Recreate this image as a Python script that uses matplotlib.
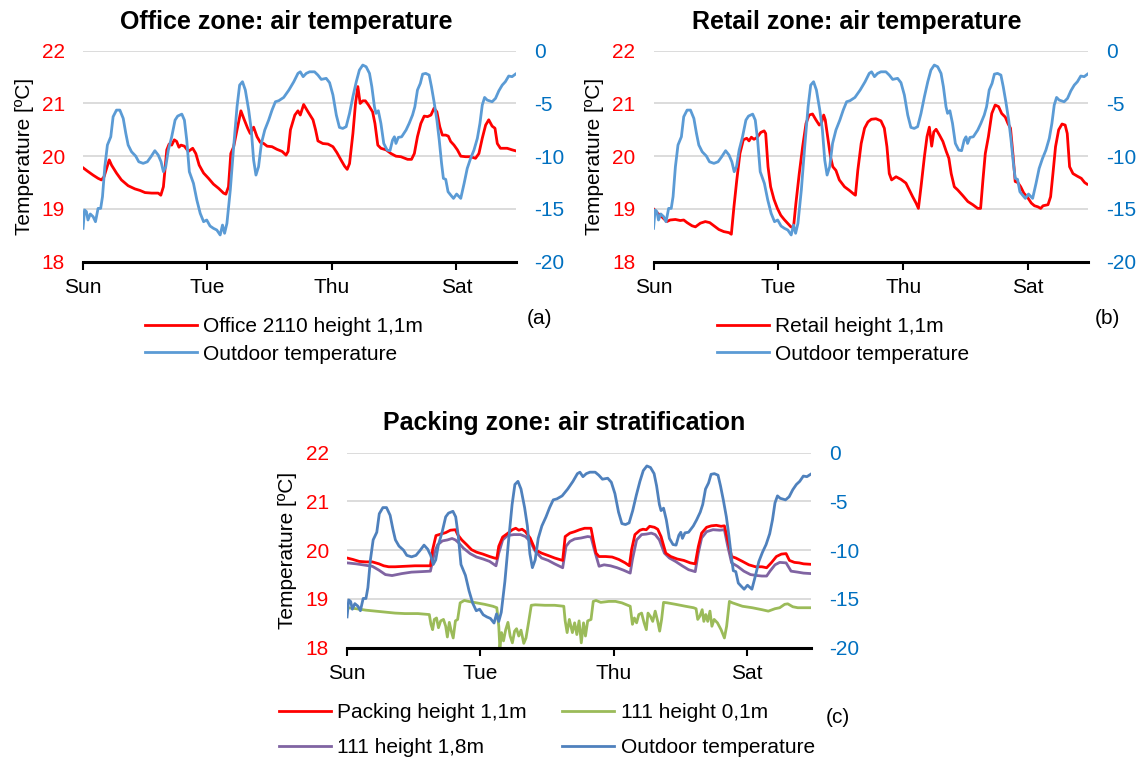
import matplotlib
matplotlib.use("Agg")
import matplotlib.pyplot as plt
from matplotlib.lines import Line2D

plt.rcParams['font.family'] = ['Liberation Sans', 'DejaVu Sans']
plt.rcParams['axes.unicode_minus'] = False

# ---------------- data (hours from Sunday 00:00) ----------------
day_ticks = [0, 48, 96, 144]
day_labels = ["Sun", "Tue", "Thu", "Sat"]
left_ticks = [18, 19, 20, 21, 22]
right_ticks = [-20, -15, -10, -5, 0]
right_labels = ["-20", "-15", "-10", "-5", "0"]

outdoor_h = [0, 0.6, 1.3, 1.9, 2.8, 3.9, 4.8, 5.8, 6.8, 7.5, 8.4, 9.4, 10.7, 11.6, 12.9, 14.2,
             15.5, 16.5, 17.4, 18.7, 20.3, 21.5, 23.2, 24.8, 26.2, 27.7, 29.0, 30.1, 31.0, 31.9,
             32.9, 34.2, 35.5, 36.5, 38.1, 39.1, 40.0, 41.0, 42.6, 43.9, 45.2, 46.5, 47.7, 49.0,
             50.3, 51.6, 52.9, 53.8, 54.6, 55.5, 56.8, 58.1, 59.4, 60.4, 61.5, 62.6, 63.9, 64.9,
             65.8, 66.7, 67.7, 68.8, 70.1, 71.6, 72.9, 74.2, 75.5, 77.4, 79.4, 81.3, 82.9, 83.8,
             84.9, 86.1, 87.4, 89.3, 90.6, 91.9, 93.8, 95.1, 96.4, 97.7, 98.9, 100.2, 101.5,
             102.8, 104.1, 105.4, 106.6, 107.9, 109.2, 110.5, 111.4, 112.4, 113.0, 113.9, 114.9,
             116.0, 117.3, 118.4, 119.4, 120.1, 120.7, 121.6, 122.9, 124.6, 125.8, 127.1, 128.0,
             129.0, 130.1, 131.0, 132.2, 133.5, 134.4, 135.4, 136.5, 137.4, 138.3, 139.0, 139.9,
             140.8, 141.8, 142.9, 144.1, 145.7, 147.0, 148.2, 149.5, 150.8, 152.1, 153.1, 154.0,
             154.9, 155.9, 157.8, 159.1, 160.4, 161.7, 162.9, 164.2, 165.5, 166.8]
outdoor_t = [-16.84, -15.1, -15.26, -16.05, -15.48, -15.74, -16.21, -14.95, -14.95, -13.84, -11.0,
             -8.94, -8.16, -6.26, -5.63, -5.63, -6.42, -7.84, -8.94, -9.58, -9.99, -10.53, -10.68,
             -10.53, -10.05, -9.48, -9.89, -10.53, -11.47, -11.0, -9.42, -8.16, -6.58, -6.20, -6.01,
             -6.58, -8.47, -11.47, -12.58, -14.16, -15.42, -16.21, -16.05, -16.62, -16.84, -17.0,
             -17.47, -16.53, -17.31, -16.37, -13.21, -9.10, -5.31, -3.26, -2.94, -3.73, -5.63, -7.52,
             -10.37, -11.79, -11.0, -8.79, -7.52, -6.58, -5.63, -4.84, -4.74, -4.43, -3.73, -2.94,
             -2.15, -2.0, -2.46, -2.15, -2.0, -2.0, -2.31, -2.72, -2.62, -3.03, -4.2, -6.1, -7.27,
             -7.37, -7.2, -5.94, -4.36, -2.94, -1.84, -1.36, -1.52, -2.15, -3.41, -5.31, -5.94,
             -5.69, -6.89, -8.79, -9.42, -9.48, -8.47, -8.16, -8.79, -8.22, -8.16, -7.52, -6.89,
             -6.1, -5.31, -3.73, -3.10, -2.22, -2.15, -2.31, -3.41, -4.84, -6.58, -8.47, -10.68,
             -12.1, -12.2, -13.37, -13.68, -14.0, -13.59, -14.0, -12.58, -11.16, -10.21, -9.42,
             -8.31, -6.89, -5.15, -4.43, -4.68, -4.84, -4.52, -3.80, -3.26, -2.94, -2.40, -2.46, -2.22]

office_h = [0, 1.9, 3.9, 5.8, 7.1, 8.1, 10.1, 11.0, 12.9, 14.8, 17.4, 20.0, 22.0, 23.9, 26.5, 29.0,
            30.0, 31.0, 32.3, 33.2, 34.2, 35.2, 36.1, 37.0, 37.8, 39.1, 40.6, 42.3, 43.5, 44.8,
            46.5, 48.4, 50.3, 52.3, 54.2, 55.1, 56.1, 57.0, 58.1, 59.4, 60.9, 62.2, 63.5, 64.5,
            65.8, 67.1, 68.4, 69.7, 71.0, 72.9, 74.8, 76.8, 78.3, 79.1, 80.0, 81.7, 82.9, 83.8,
            85.1, 86.8, 88.7, 89.7, 90.6, 92.5, 94.5, 96.4, 97.9, 99.6, 100.9, 101.9, 102.8,
            104.1, 105.1, 106.0, 106.9, 107.9, 108.9, 110.1, 111.7, 112.6, 113.7, 114.9, 116.9,
            118.8, 120.7, 122.6, 125.2, 126.7, 127.8, 129.0, 130.3, 131.6, 132.9, 134.2, 135.4,
            136.5, 137.6, 138.6, 139.9, 140.9, 141.8, 143.1, 144.4, 145.7, 147.6, 149.5, 151.4,
            152.7, 154.0, 155.3, 156.5, 157.8, 158.9, 159.8, 161.0, 163.6, 165.5, 167.0]
office_t = [19.78, 19.71, 19.64, 19.58, 19.55, 19.61, 19.93, 19.83, 19.68, 19.55, 19.44, 19.38,
            19.35, 19.31, 19.30, 19.30, 19.26, 19.42, 20.12, 20.23, 20.21, 20.31, 20.28, 20.17,
            20.21, 20.19, 20.09, 20.15, 20.05, 19.83, 19.68, 19.58, 19.47, 19.39, 19.30, 19.28,
            19.42, 20.05, 20.18, 20.50, 20.86, 20.69, 20.53, 20.43, 20.55, 20.37, 20.26, 20.24,
            20.19, 20.18, 20.13, 20.09, 20.02, 20.09, 20.50, 20.78, 20.86, 20.78, 20.98, 20.84,
            20.69, 20.50, 20.29, 20.24, 20.23, 20.18, 20.07, 19.92, 19.81, 19.75, 19.86, 20.43,
            21.00, 21.32, 21.00, 21.05, 21.05, 20.97, 20.84, 20.62, 20.21, 20.15, 20.12, 20.05,
            20.00, 19.99, 19.94, 19.94, 20.05, 20.37, 20.62, 20.76, 20.75, 20.78, 20.91, 20.84,
            20.56, 20.40, 20.40, 20.38, 20.28, 20.21, 20.12, 20.00, 19.99, 19.99, 19.96, 20.05,
            20.34, 20.59, 20.69, 20.57, 20.53, 20.24, 20.15, 20.15, 20.12, 20.10]

retail_h = [0, 1.3, 3.2, 5.1, 6.4, 8.4, 10.3, 11.6, 12.9, 14.8, 16.1, 18.0, 19.9, 21.6, 23.2, 25.1,
            27.0, 29.0, 29.9, 30.9, 32.0, 33.2, 34.5, 35.8, 36.7, 37.6, 38.6, 39.9, 41.2, 42.5,
            43.1, 44.0, 45.0, 46.3, 47.6, 48.9, 50.2, 51.5, 52.8, 53.8, 54.7, 56.0, 57.3, 58.6,
            59.8, 61.1, 62.4, 63.7, 64.6, 65.4, 66.0, 66.9, 68.0, 68.9, 70.1, 71.4, 73.4, 75.3,
            77.0, 77.6, 78.5, 79.8, 81.1, 82.4, 83.7, 85.5, 87.4, 88.7, 89.7, 90.6, 91.5, 93.2,
            95.1, 97.0, 98.3, 99.6, 100.9, 101.8, 102.8, 104.1, 105.1, 106.0, 106.9, 107.7, 108.6,
            109.9, 111.2, 112.5, 113.5, 114.4, 115.6, 116.9, 118.9, 120.8, 122.7, 124.6, 125.7,
            126.6, 127.5, 128.7, 130.0, 131.3, 132.6, 133.8, 135.2, 136.2, 137.2, 138.1, 139.0,
            140.0, 141.1, 142.3, 143.6, 145.2, 146.4, 147.7, 148.8, 149.7, 151.6, 152.6, 153.5,
            154.5, 155.7, 157.0, 158.2, 159.0, 159.9, 161.2, 162.9, 164.4, 165.7, 166.6]
retail_t = [19.00, 18.93, 18.85, 18.76, 18.79, 18.80, 18.78, 18.79, 18.74, 18.68, 18.66, 18.73,
            18.76, 18.74, 18.68, 18.61, 18.57, 18.55, 18.52, 19.04, 19.55, 20.05, 20.31, 20.34,
            20.29, 20.36, 20.32, 20.36, 20.45, 20.48, 20.43, 19.80, 19.42, 19.18, 19.01, 18.88,
            18.80, 18.73, 18.66, 18.65, 19.10, 19.67, 20.18, 20.62, 20.78, 20.80, 20.69, 20.59,
            20.64, 20.78, 20.69, 20.37, 19.99, 19.80, 19.73, 19.55, 19.42, 19.35, 19.28, 19.26,
            19.73, 20.24, 20.53, 20.65, 20.70, 20.71, 20.67, 20.53, 20.18, 19.67, 19.55, 19.61,
            19.56, 19.49, 19.36, 19.23, 19.11, 19.01, 19.42, 19.99, 20.37, 20.55, 20.19, 20.46,
            20.51, 20.40, 20.28, 20.09, 19.96, 19.67, 19.42, 19.36, 19.25, 19.14, 19.08, 19.01,
            19.01, 19.55, 20.05, 20.37, 20.81, 20.97, 20.94, 20.81, 20.74, 20.62, 20.53, 20.05,
            19.52, 19.50, 19.42, 19.30, 19.23, 19.11, 19.06, 19.04, 19.01, 19.06, 19.08, 19.23,
            19.67, 20.18, 20.50, 20.61, 20.59, 20.43, 19.80, 19.67, 19.62, 19.58, 19.50, 19.47]

packing_h = [0, 2.1, 4.4, 6.8, 9.1, 11.5, 13.2, 15.0, 17.3, 20.8, 24.4, 27.9, 30.0, 30.8, 32.0,
             33.7, 35.5, 37.2, 39.0, 39.8, 41.3, 43.1, 44.8, 46.6, 48.9, 51.3, 53.0, 53.9, 54.6,
             56.0, 57.7, 59.5, 60.7, 61.8, 63.0, 64.2, 65.9, 67.7, 70.0, 72.4, 74.7, 77.6, 78.5,
             80.2, 81.9, 83.7, 85.5, 87.8, 88.6, 89.6, 90.7, 93.1, 95.4, 97.8, 100.1, 101.6,
             102.4, 103.6, 105.4, 106.5, 107.7, 108.9, 110.6, 111.8, 113.0, 114.7, 116.5, 118.8,
             121.2, 123.5, 125.3, 126.4, 127.6, 129.4, 131.1, 132.9, 134.6, 135.8, 137.0, 138.4,
             139.9, 142.3, 144.6, 147.0, 149.3, 151.0, 152.8, 154.5, 156.3, 158.0, 159.2, 161.0,
             162.7, 164.3, 167.0]
packing_t = [19.84, 19.81, 19.77, 19.76, 19.76, 19.72, 19.68, 19.66, 19.66, 19.67, 19.68, 19.68,
             19.68, 20.01, 20.30, 20.33, 20.36, 20.41, 20.42, 20.32, 20.21, 20.11, 20.01, 19.96,
             19.92, 19.87, 19.84, 19.83, 20.08, 20.27, 20.34, 20.42, 20.45, 20.41, 20.43, 20.38,
             20.25, 20.01, 19.94, 19.89, 19.84, 19.79, 20.28, 20.35, 20.38, 20.42, 20.45, 20.45,
             20.21, 19.94, 19.87, 19.87, 19.86, 19.81, 19.74, 19.68, 20.01, 20.32, 20.41, 20.43,
             20.42, 20.49, 20.47, 20.43, 20.28, 19.94, 19.87, 19.82, 19.79, 19.74, 19.72, 20.07,
             20.35, 20.47, 20.50, 20.51, 20.49, 20.50, 20.21, 19.87, 19.84, 19.77, 19.70, 19.66,
             19.66, 19.64, 19.75, 19.87, 19.92, 19.93, 19.79, 19.75, 19.74, 19.72, 19.71]

h18_h = [0, 3.3, 6.8, 9.1, 11.5, 13.8, 16.2, 19.7, 23.2, 26.7, 30.0, 31.4, 32.6, 34.3, 36.1, 37.8,
         39.0, 40.2, 41.9, 44.3, 46.6, 48.9, 51.3, 53.6, 54.6, 56.0, 57.7, 60.0, 62.4, 64.2, 65.9,
         67.7, 70.0, 72.4, 74.7, 77.6, 78.8, 80.2, 81.9, 84.2, 86.6, 87.8, 89.0, 90.7, 92.5, 94.8,
         97.2, 99.5, 101.9, 102.7, 104.2, 106.0, 107.7, 109.5, 110.9, 112.4, 114.2, 116.0, 118.2,
         120.6, 122.9, 125.3, 126.4, 127.6, 129.4, 131.7, 134.1, 135.8, 137.0, 138.4, 140.5,
         142.8, 145.2, 147.6, 149.3, 151.0, 152.2, 154.0, 155.7, 158.0, 159.8, 162.2, 164.3, 167.0]
h18_t = [19.74, 19.72, 19.69, 19.67, 19.59, 19.50, 19.48, 19.52, 19.55, 19.56, 19.57, 19.94, 20.11,
         20.19, 20.21, 20.24, 20.21, 20.15, 20.04, 19.93, 19.86, 19.82, 19.77, 19.68, 19.94, 20.21,
         20.30, 20.32, 20.32, 20.28, 20.18, 19.98, 19.84, 19.79, 19.72, 19.64, 20.08, 20.18, 20.23,
         20.25, 20.28, 20.27, 20.01, 19.67, 19.70, 19.68, 19.64, 19.59, 19.53, 19.81, 20.21, 20.32,
         20.33, 20.35, 20.32, 20.21, 19.94, 19.84, 19.77, 19.68, 19.60, 19.56, 19.94, 20.25, 20.38,
         20.42, 20.41, 20.42, 20.08, 19.74, 19.67, 19.57, 19.50, 19.48, 19.47, 19.47, 19.57, 19.70,
         19.75, 19.74, 19.57, 19.55, 19.53, 19.52]

h01_h = [0, 3.3, 6.8, 10.3, 13.8, 17.3, 20.8, 25.5, 29.6, 30.2, 30.8, 31.4, 32.2, 32.9, 33.7, 34.7,
         35.5, 36.1, 36.8, 37.5, 38.2, 39.0, 39.8, 40.7, 42.2, 43.7, 46.6, 49.5, 52.5, 53.9, 54.6,
         55.0, 55.6, 56.3, 57.1, 57.9, 58.7, 59.5, 60.3, 61.0, 61.8, 62.6, 63.6, 64.4, 65.3, 66.3,
         67.7, 71.2, 74.7, 78.0, 78.5, 79.2, 80.0, 81.1, 81.9, 82.7, 83.5, 84.3, 85.1, 85.8, 86.6,
         87.8, 88.6, 89.6, 91.3, 94.2, 96.6, 98.9, 101.9, 102.7, 103.4, 104.2, 105.0, 106.0, 106.9,
         107.7, 108.3, 109.2, 110.0, 110.9, 111.8, 112.5, 113.2, 113.9, 115.3, 118.2, 121.8, 124.7,
         125.6, 126.2, 127.0, 127.8, 128.4, 129.1, 129.8, 130.6, 131.3, 132.1, 133.3, 134.6, 135.8,
         136.6, 137.6, 138.7, 142.3, 145.8, 149.3, 151.6, 154.0, 155.7, 157.5, 158.6, 160.4, 162.2,
         164.3, 167.0]
h01_t = [18.82, 18.80, 18.77, 18.75, 18.73, 18.71, 18.70, 18.70, 18.68, 18.48, 18.37, 18.58, 18.61,
         18.41, 18.55, 18.58, 18.44, 18.22, 18.52, 18.34, 18.20, 18.55, 18.58, 18.92, 18.97, 18.95,
         18.92, 18.89, 18.85, 18.82, 18.44, 17.99, 18.31, 18.14, 18.37, 18.52, 18.24, 18.10, 18.34,
         18.39, 18.24, 18.36, 18.09, 18.20, 18.51, 18.87, 18.88, 18.87, 18.87, 18.85, 18.55, 18.31,
         18.58, 18.31, 18.51, 18.27, 18.55, 18.10, 18.51, 18.24, 18.55, 18.58, 18.95, 18.97, 18.93,
         18.95, 18.95, 18.92, 18.85, 18.48, 18.61, 18.51, 18.68, 18.71, 18.51, 18.37, 18.71, 18.64,
         18.54, 18.75, 18.54, 18.34, 18.58, 18.93, 18.92, 18.89, 18.85, 18.82, 18.80, 18.58, 18.65,
         18.78, 18.54, 18.68, 18.54, 18.75, 18.44, 18.58, 18.51, 18.37, 18.20, 18.44, 18.95, 18.92,
         18.85, 18.82, 18.78, 18.75, 18.80, 18.82, 18.89, 18.90, 18.84, 18.82, 18.82, 18.82]

RED = '#FF0000'
BLUE_LIGHT = '#5B9BD5'
BLUE_DARK = '#4F81BD'
GREEN = '#9BBB59'
PURPLE = '#8064A2'
AXBLUE = '#0070C0'
LW = 2.0
FS = 15

fig = plt.figure(figsize=(11.36, 7.58), dpi=100)


def style(ax, ylabel_x):
    ax.set_xlim(0, 167)
    ax.set_ylim(18, 22)
    ax.set_yticks(left_ticks)
    ax.set_xticks(day_ticks)
    ax.set_xticklabels(day_labels)
    for s in ['top', 'left', 'right']:
        ax.spines[s].set_visible(False)
    ax.spines['bottom'].set_linewidth(2.2)
    ax.spines['bottom'].set_color('black')
    ax.spines['bottom'].set_zorder(5)
    ax.grid(axis='y', color='#D9D9D9', linewidth=1.3)
    ax.set_axisbelow(True)
    ax.tick_params(axis='y', length=0, pad=13, labelcolor=RED, labelsize=FS)
    ax.tick_params(axis='x', length=6, width=1.5, direction='out', pad=6, labelsize=FS)
    ax.set_ylabel('Temperature [ºC]', fontsize=FS)
    ax.yaxis.set_label_coords(ylabel_x, 0.5)
    ax2 = ax.twinx()
    ax2.set_ylim(-20, 0)
    ax2.set_yticks(right_ticks)
    ax2.set_yticklabels(right_labels)
    ax2.tick_params(axis='y', length=0, pad=13, labelcolor=AXBLUE, labelsize=FS)
    for s in ['top', 'left', 'right', 'bottom']:
        ax2.spines[s].set_visible(False)
    return ax2


# ---- panel (a)
axa = fig.add_axes([0.0731, 0.6548, 0.3811, 0.2783])
axa2 = style(axa, -0.113)
axa.plot(office_h, office_t, color=RED, lw=LW)
axa2.plot(outdoor_h, outdoor_t, color=BLUE_LIGHT, lw=LW)
fig.text(0.2518, 0.971, 'Office zone: air temperature', ha='center', va='center',
         fontsize=18, fontweight='bold')
fig.legend([Line2D([], [], color=RED, lw=LW), Line2D([], [], color=BLUE_LIGHT, lw=LW)],
           ['Office 2110 height 1,1m', 'Outdoor temperature'],
           loc='upper left', bbox_to_anchor=(0.1276, 0.5814), frameon=False, fontsize=FS,
           handlelength=2.5, handletextpad=0.3, labelspacing=0.4, borderpad=0, borderaxespad=0)
fig.text(0.475, 0.580, '(a)', ha='center', va='center', fontsize=FS)

# ---- panel (b)
axb = fig.add_axes([0.5753, 0.6548, 0.3825, 0.2783])
axb2 = style(axb, -0.1135)
axb.plot(retail_h, retail_t, color=RED, lw=LW)
axb2.plot(outdoor_h, outdoor_t, color=BLUE_LIGHT, lw=LW)
fig.text(0.754, 0.971, 'Retail zone: air temperature', ha='center', va='center',
         fontsize=18, fontweight='bold')
fig.legend([Line2D([], [], color=RED, lw=LW), Line2D([], [], color=BLUE_LIGHT, lw=LW)],
           ['Retail height 1,1m', 'Outdoor temperature'],
           loc='upper left', bbox_to_anchor=(0.631, 0.5814), frameon=False, fontsize=FS,
           handlelength=2.5, handletextpad=0.3, labelspacing=0.4, borderpad=0, borderaxespad=0)
fig.text(0.975, 0.580, '(b)', ha='center', va='center', fontsize=FS)

# ---- panel (c)
axc = fig.add_axes([0.3055, 0.1455, 0.4085, 0.2573])
axc2 = style(axc, -0.107)
axc.plot(h01_h, h01_t, color=GREEN, lw=LW)
axc.plot(h18_h, h18_t, color=PURPLE, lw=LW)
axc.plot(packing_h, packing_t, color=RED, lw=LW)
axc2.plot(outdoor_h, outdoor_t, color=BLUE_DARK, lw=LW)
fig.text(0.497, 0.442, 'Packing zone: air stratification', ha='center', va='center',
         fontsize=18, fontweight='bold')
fig.legend([Line2D([], [], color=RED, lw=LW), Line2D([], [], color=PURPLE, lw=LW),
            Line2D([], [], color=GREEN, lw=LW), Line2D([], [], color=BLUE_DARK, lw=LW)],
           ['Packing height 1,1m', '111 height 1,8m', '111 height 0,1m', 'Outdoor temperature'],
           ncol=2, loc='upper left', bbox_to_anchor=(0.2456, 0.072), frameon=False, fontsize=FS,
           handlelength=2.5, handletextpad=0.3, labelspacing=0.75, columnspacing=1.7,
           borderpad=0, borderaxespad=0)
fig.text(0.738, 0.053, '(c)', ha='center', va='center', fontsize=FS)

fig.savefig('out.png', dpi=100)
